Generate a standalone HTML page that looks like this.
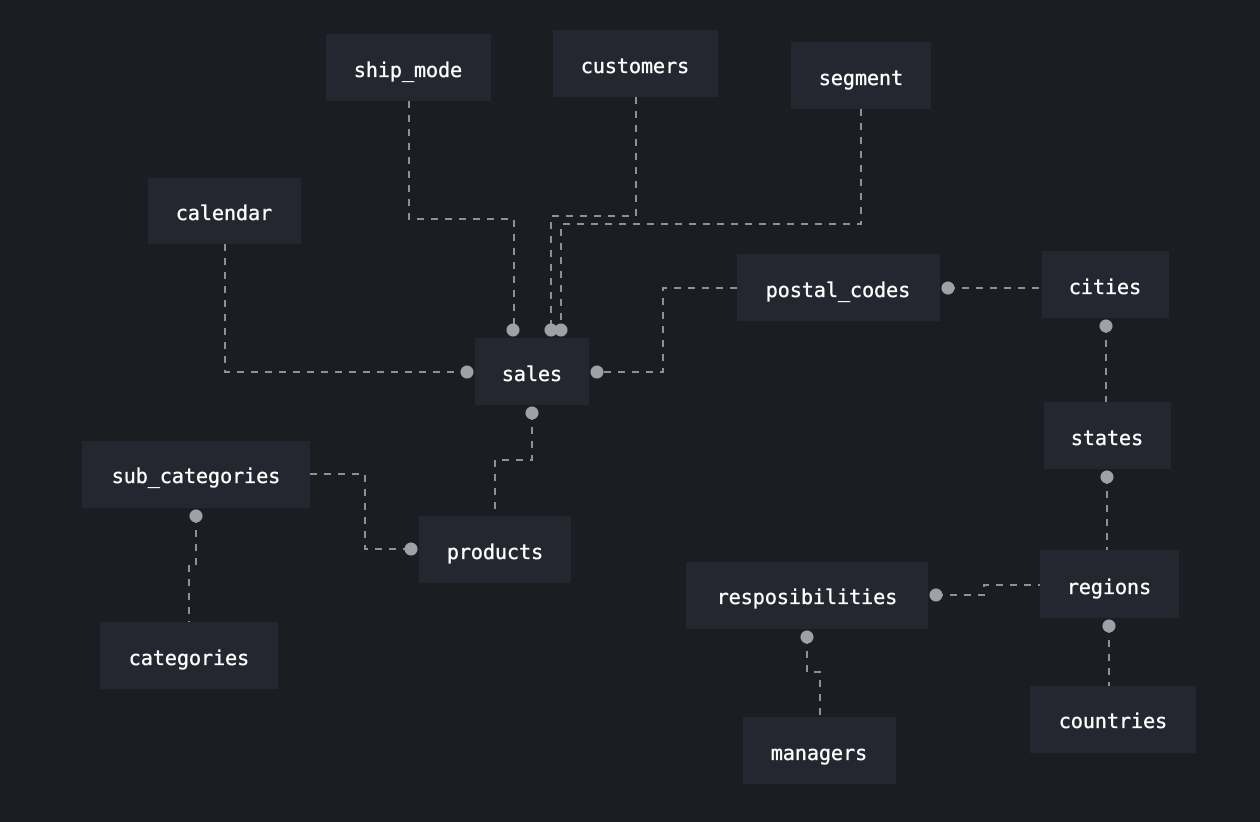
<!DOCTYPE html>
<html><head><meta charset="utf-8"><style>
html,body{margin:0;padding:0;background:#1c1d23;}
svg{display:block}
text{font-family:"DejaVu Sans Mono","Liberation Mono",monospace;font-size:20px;fill:#ffffff;stroke:#ffffff;stroke-width:0.35;text-anchor:middle;dominant-baseline:central}
.b{fill:#242730}
.l{fill:none;stroke:#8e9097;stroke-width:2;stroke-dasharray:7 7}
.d{fill:#9fa1a8}
</style></head><body>
<svg width="1260" height="822" viewBox="0 0 1260 822">
<rect width="1260" height="822" fill="#1c1d23"/>
<path class="l" d="M409 101V219H514V330"/>
<path class="l" d="M636 97V216H551V330"/>
<path class="l" d="M861 109V224H561V330"/>
<path class="l" d="M225 244V372H467"/>
<path class="l" d="M737 288H663V372H597"/>
<path class="l" d="M948 288H1042"/>
<path class="l" d="M1106 326V402"/>
<path class="l" d="M1107 477V550"/>
<path class="l" d="M936 595H984V585H1040"/>
<path class="l" d="M1109 626V686"/>
<path class="l" d="M807 637V672H820V717"/>
<path class="l" d="M532 413V460H495V516"/>
<path class="l" d="M310 474H365V549H411"/>
<path class="l" d="M196 516V565H189V622"/>
<rect class="b" x="326" y="34" width="165" height="67"/><text x="408" y="70">ship_mode</text>
<rect class="b" x="553" y="30" width="165" height="67"/><text x="635" y="66">customers</text>
<rect class="b" x="791" y="42" width="140" height="67"/><text x="861" y="78">segment</text>
<rect class="b" x="148" y="178" width="153" height="66"/><text x="224" y="213">calendar</text>
<rect class="b" x="475" y="338" width="114" height="67"/><text x="532" y="374">sales</text>
<rect class="b" x="737" y="254" width="203" height="67"/><text x="838" y="290">postal_codes</text>
<rect class="b" x="1042" y="251" width="127" height="67"/><text x="1105" y="287">cities</text>
<rect class="b" x="1044" y="402" width="127" height="67"/><text x="1107" y="438">states</text>
<rect class="b" x="82" y="441" width="228" height="67"/><text x="196" y="476">sub_categories</text>
<rect class="b" x="419" y="516" width="152" height="67"/><text x="495" y="552">products</text>
<rect class="b" x="100" y="622" width="178" height="67"/><text x="189" y="658">categories</text>
<rect class="b" x="686" y="562" width="242" height="67"/><text x="807" y="597">resposibilities</text>
<rect class="b" x="1040" y="550" width="139" height="68"/><text x="1109" y="587">regions</text>
<rect class="b" x="1030" y="686" width="166" height="67"/><text x="1113" y="721">countries</text>
<rect class="b" x="743" y="717" width="153" height="67"/><text x="819" y="753">managers</text>
<g class="d">
<circle cx="513" cy="330" r="6.5"/><circle cx="551" cy="330" r="6.5"/><circle cx="561" cy="330" r="6.5"/>
<circle cx="467" cy="372" r="6.5"/><circle cx="597" cy="372" r="6.5"/><circle cx="948" cy="288" r="6.5"/>
<circle cx="1106" cy="326" r="6.5"/><circle cx="1107" cy="477" r="6.5"/><circle cx="936" cy="595" r="6.5"/>
<circle cx="1109" cy="626" r="6.5"/><circle cx="807" cy="637" r="6.5"/><circle cx="532" cy="413" r="6.5"/>
<circle cx="411" cy="549" r="6.5"/><circle cx="196" cy="516" r="6.5"/>
</g>
</svg>
</body></html>
